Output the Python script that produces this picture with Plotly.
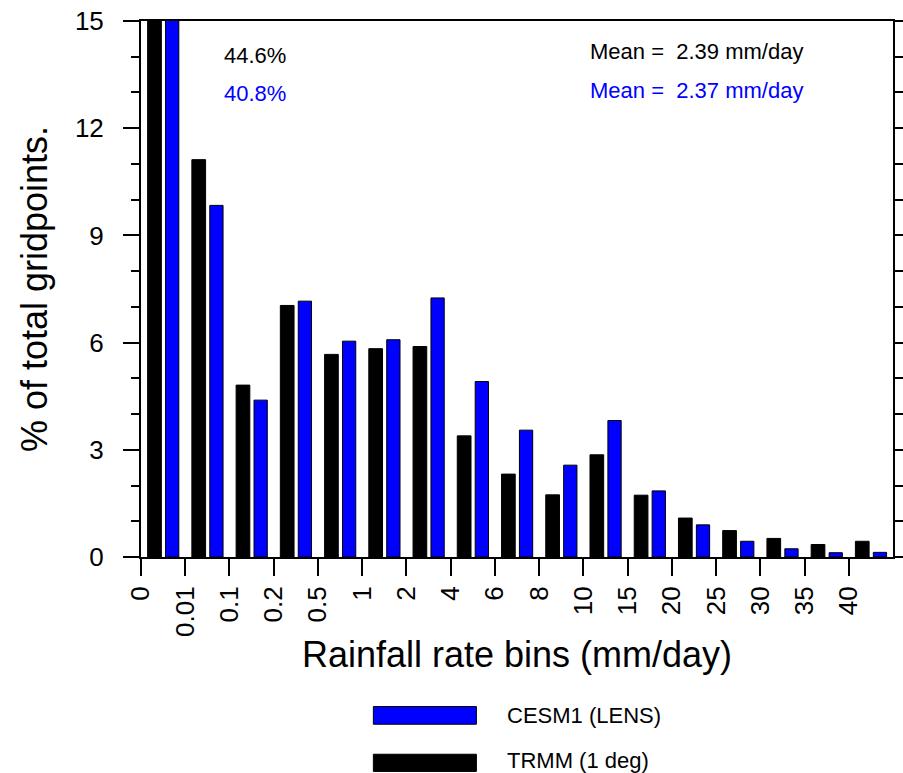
import plotly.graph_objects as go

# Bin edge labels (mm/day)
bin_labels = ["0", "0.01", "0.1", "0.2", "0.5", "1", "2", "4", "6", "8",
              "10", "15", "20", "25", "30", "35", "40"]

# % of total gridpoints per bin
trmm = [44.6, 11.12, 4.81, 7.04, 5.67, 5.83, 5.89, 3.39, 2.32, 1.74,
        2.86, 1.73, 1.09, 0.74, 0.52, 0.35, 0.44]
cesm = [40.8, 9.84, 4.39, 7.16, 6.04, 6.08, 7.25, 4.91, 3.55, 2.57,
        3.82, 1.85, 0.90, 0.44, 0.23, 0.12, 0.13]

trmm_name = "TRMM (1 deg)"
cesm_name = "CESM1 (LENS)"
trmm_mean = 2.39
cesm_mean = 2.37
trmm_zero_pct = "44.6%"
cesm_zero_pct = "40.8%"

y_ticks = [0, 3, 6, 9, 12, 15]

FONT = "Liberation Sans, Arial, Helvetica, sans-serif"
BLUE = "#0000FF"
BLACK = "#000000"

W, H = 903, 773

xpos = list(range(len(bin_labels)))

fig = go.Figure()
fig.add_trace(go.Bar(
    x=xpos, y=trmm, name=trmm_name, offset=0.15, width=0.31,
    marker=dict(color=BLACK, line=dict(color="#000000", width=1)),
    showlegend=False,
))
fig.add_trace(go.Bar(
    x=xpos, y=cesm, name=cesm_name, offset=0.555, width=0.30,
    marker=dict(color=BLUE, line=dict(color="#000000", width=1)),
    showlegend=False,
))

fig.update_layout(
    width=W, height=H, autosize=False,
    margin=dict(l=141, r=10, t=21, b=216),
    paper_bgcolor="white", plot_bgcolor="white",
    font=dict(family=FONT, color="black"),
    barmode="overlay",
    xaxis=dict(
        range=[0, len(bin_labels)], automargin=False,
        tickmode="array", tickvals=xpos, ticktext=bin_labels,
        tickangle=-90, tickfont=dict(size=26),
        ticks="outside", ticklen=17, tickwidth=2, tickcolor="black",
        ticklabelstandoff=0,
        showline=True, linewidth=2, linecolor="black", mirror=True,
        showgrid=False, zeroline=False,
        title=dict(text="Rainfall rate bins (mm/day)", font=dict(size=36), standoff=6),
    ),
    yaxis=dict(
        range=[0, 15], automargin=False,
        tickmode="array", tickvals=y_ticks,
        tickfont=dict(size=26),
        ticks="outside", ticklen=16, tickwidth=2, tickcolor="black",
        ticklabelstandoff=14,
        minor=dict(dtick=1, ticks="outside", ticklen=8, tickwidth=2, tickcolor="black", showgrid=False),
        showline=True, linewidth=2, linecolor="black", mirror="allticks",
        showgrid=False, zeroline=False,
        title=dict(text="% of total gridpoints.", font=dict(size=36), standoff=16),
    ),
)

ann_font = 22
fig.add_annotation(x=1.84, y=0.9355, xref="x", yref="paper", text=trmm_zero_pct,
                   showarrow=False, xanchor="left", yanchor="middle",
                   font=dict(size=ann_font, color=BLACK))
fig.add_annotation(x=1.84, y=0.865, xref="x", yref="paper", text=cesm_zero_pct,
                   showarrow=False, xanchor="left", yanchor="middle",
                   font=dict(size=ann_font, color=BLUE))
fig.add_annotation(x=10.1, y=0.9425, xref="x", yref="paper",
                   text="Mean =\u00a0 %.2f mm/day" % trmm_mean,
                   showarrow=False, xanchor="left", yanchor="middle",
                   font=dict(size=ann_font, color=BLACK))
fig.add_annotation(x=10.1, y=0.871, xref="x", yref="paper",
                   text="Mean =\u00a0 %.2f mm/day" % cesm_mean,
                   showarrow=False, xanchor="left", yanchor="middle",
                   font=dict(size=ann_font, color=BLUE))

# Custom legend (wide boxes, NCL style)
legend_items = [(cesm_name, BLUE, -0.279, -0.312, -0.2955),
                (trmm_name, BLACK, -0.368, -0.400, -0.3805)]
for name, col, y0, y1, ytxt in legend_items:
    fig.add_shape(type="rect", xref="paper", yref="paper",
                  x0=0.309, x1=0.446, y0=y1, y1=y0,
                  fillcolor=col, line=dict(color="black", width=1))
    fig.add_annotation(x=0.486, y=ytxt, xref="paper", yref="paper",
                       text=name, showarrow=False, xanchor="left", yanchor="middle",
                       borderpad=0, font=dict(size=22, color="black"))

post = ("document.documentElement.style.margin='0';"
        "document.documentElement.style.overflow='hidden';"
        "document.body.style.margin='0';"
        "document.body.style.overflow='hidden';")

fig.write_html("out.html", config={"responsive": False, "displayModeBar": False},
               post_script=post)
